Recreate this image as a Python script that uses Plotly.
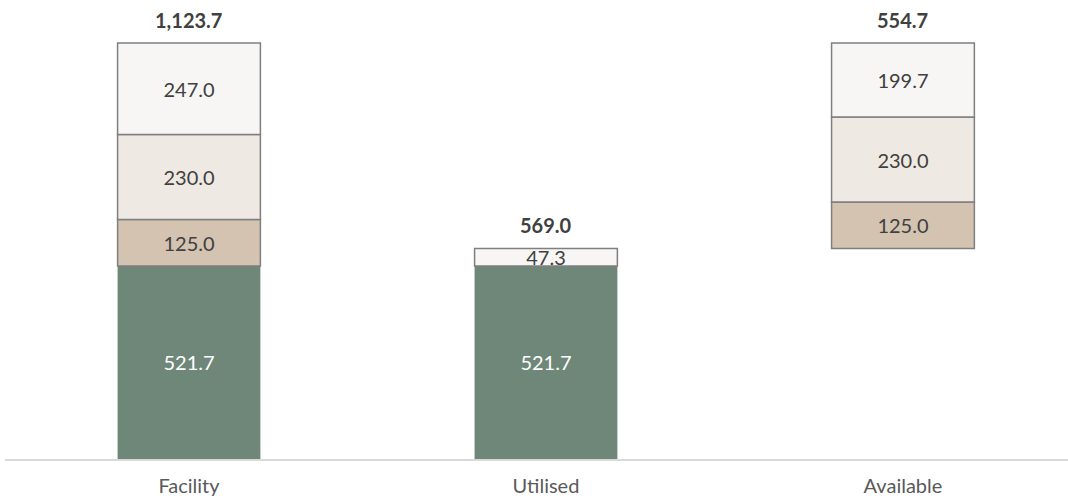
import plotly.graph_objects as go

categories = ["Facility", "Utilised", "Available"]
drawn = [521.7, 521.7, None]
tranche_a = [125.0, None, 125.0]
tranche_b = [230.0, None, 230.0]
tranche_c = [247.0, 47.3, 199.7]
totals = [1123.7, 569.0, 554.7]
# Available bar floats on top of the utilised total
start_offsets = [0.0, 0.0, 569.0]

series = [
    ("Drawn", drawn, "#6F8778", 0, "#FFFFFF"),
    ("Tranche A", tranche_a, "#D3C3B0", 1.5, "#404040"),
    ("Tranche B", tranche_b, "#EEE9E3", 1.5, "#404040"),
    ("Tranche C", tranche_c, "#F7F6F4", 1.5, "#404040"),
]

FONT = "Lato, Carlito, Calibri, sans-serif"
fig = go.Figure()
running = list(start_offsets)
for name, vals, color, lw, tcol in series:
    bases, ys, texts = [], [], []
    for i, v in enumerate(vals):
        bases.append(running[i])
        ys.append(v)
        texts.append(f"{v:,.1f}" if v is not None else "")
        if v is not None:
            running[i] += v
    fig.add_trace(go.Bar(
        x=categories, y=ys, base=bases, name=name,
        marker=dict(color=color, line=dict(color="#7F7F7F", width=lw)),
        text=texts, textposition="inside", insidetextanchor="middle",
        textangle=0,
        insidetextfont=dict(family=FONT, size=20, color=tcol),
        width=0.4, hoverinfo="skip",
    ))

for i, cat in enumerate(categories):
    top = start_offsets[i] + totals[i]
    fig.add_annotation(
        x=cat, y=top, text=f"<b>{totals[i]:,.1f}</b>", showarrow=False,
        yanchor="bottom", yshift=9,
        font=dict(family=FONT, size=20, color="#404040"),
    )

fig.update_layout(
    barmode="overlay",
    width=1068, height=502,
    margin=dict(l=5, r=0, t=0, b=43),
    plot_bgcolor="white", paper_bgcolor="white",
    showlegend=False,
    uniformtext=dict(minsize=20, mode="show"),
    xaxis=dict(
        range=[-0.5154, 2.4623], showline=True, linecolor="#D9D9D9", linewidth=2,
        showgrid=False, zeroline=False, ticks="outside", ticklen=8,
        tickcolor="rgba(0,0,0,0)",
        tickfont=dict(family=FONT, size=20, color="#595959"),
    ),
    yaxis=dict(range=[0, 1240], visible=False, showgrid=False, zeroline=False),
)

fig.write_html("out.html")
